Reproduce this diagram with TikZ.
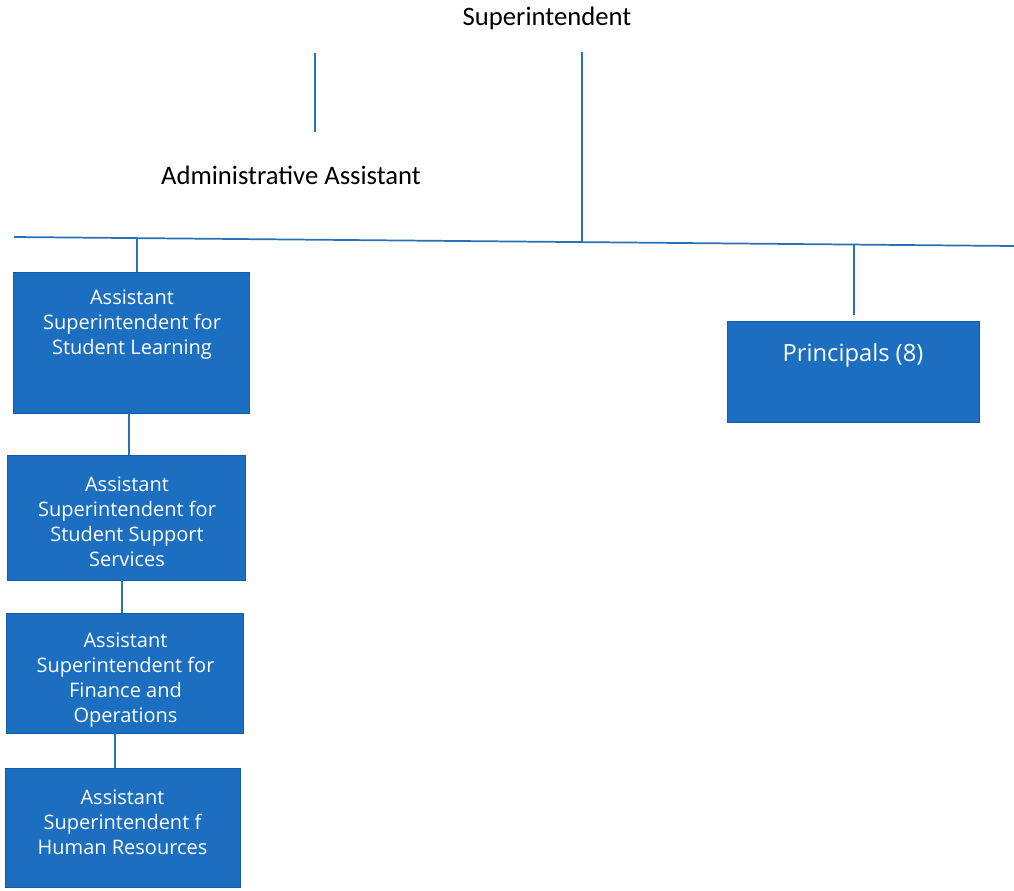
\documentclass[tikz,border=0pt]{standalone}
\usepackage{fontspec}
\setmainfont{Carlito}
\newfontfamily\boxfont{Open Sans}
\usetikzlibrary{fit}
\definecolor{linkblue}{RGB}{40,112,184}
\definecolor{boxblue}{RGB}{28,110,192}
\definecolor{boxedge}{RGB}{20,92,166}
\begin{document}
\begin{tikzpicture}[x=0.75pt,y=-0.75pt,
  link/.style={draw=linkblue, line width=1.3pt},
  unit/.style={rectangle, fill=boxblue, draw=boxedge, line width=0.6pt, inner sep=0pt},
  unittext/.style={text=white, font=\boxfont\fontsize{15}{18.75}\selectfont, align=center, inner sep=0pt},
  bigunittext/.style={unittext, font=\boxfont\fontsize{17.8}{21}\selectfont},
  toptext/.style={font=\fontsize{20}{24}\selectfont, inner sep=0pt}]
  \useasboundingbox (0,0) rectangle (1014,890);

  % top level titles
  \node[toptext] (sup) at (547,18) {Superintendent};
  \node[toptext] (adm) at (291,175) {Administrative Assistant};

  % boxes
  \node[unit, fit={(13,272) (249,413)}] (b1) {};
  \node[unit, fit={(7,455) (245,580)}] (b2) {};
  \node[unit, fit={(6,613) (243,733)}] (b3) {};
  \node[unit, fit={(5,768) (240,887)}] (b4) {};
  \node[unit, fit={(727,321) (979,422)}] (pr) {};

  \node[unittext] (t1) at (132,325) {Assistant\\Superintendent for\\Student Learning};
  \node[unittext] (t2) at (127,522) {Assistant\\Superintendent for\\Student Support\\Services};
  \node[unittext] (t3) at (125.5,680) {Assistant\\Superintendent for\\Finance and\\Operations};
  \node[unittext] (t4) at (122.5,822) {Assistant\\Superintendent f\\Human Resources};
  \node[bigunittext] (t5) at (853,355) {Principals (8)};

  % connector end points
  \coordinate (admTop) at (315,53);
  \coordinate (admBot) at (315,132);
  \coordinate (supTop) at (582,52);
  \coordinate (supBar) at (582,242.1);
  \coordinate (barL) at (14,237);
  \coordinate (barR) at (1014,246);
  \coordinate (dropL) at (137,238.1);
  \coordinate (dropR) at (854,244.6);
  \coordinate (prTop) at (854,315);

  % connectors
  \draw[link] (admTop) -- (admBot);
  \draw[link] (supTop) -- (supBar);
  \draw[link] (barL) -- (barR);
  \draw[link] (dropL) -- (dropL |- b1.north);
  \draw[link] (dropR) -- (prTop);
  \draw[link] ([xshift=-1.5pt]b1.south) -- ([xshift=-1.5pt]b1.south |- b2.north);
  \draw[link] ([xshift=-3pt]b2.south) -- ([xshift=-3pt]b2.south |- b3.north);
  \draw[link] ([xshift=-7pt]b3.south) -- ([xshift=-7pt]b3.south |- b4.north);
\end{tikzpicture}
\end{document}
